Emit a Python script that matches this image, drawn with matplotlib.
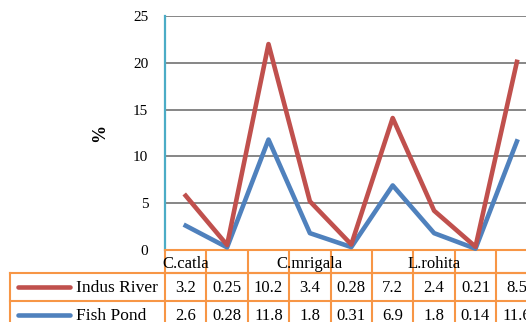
import numpy as np
import matplotlib
matplotlib.use("Agg")
import matplotlib.pyplot as plt
from matplotlib import transforms

# Данные
header_labels = ["C.catla", "", "", "C.mrigala", "", "", "L.rohita", "", ""]
series_names = ["Indus River", "Fish Pond"]
indus = [3.2, 0.25, 10.2, 3.4, 0.28, 7.2, 2.4, 0.21, 8.5]
fish = [2.6, 0.28, 11.8, 1.8, 0.31, 6.9, 1.8, 0.14, 11.6]
indus_txt = ["3.2", "0.25", "10.2", "3.4", "0.28", "7.2", "2.4", "0.21", "8.5"]
fish_txt = ["2.6", "0.28", "11.8", "1.8", "0.31", "6.9", "1.8", "0.14", "11.6"]
yticks = [0, 5, 10, 15, 20, 25]

W, H = 526, 322
RED = "#C0504D"
BLUE = "#4F81BD"
ORANGE = "#F79646"
FONT = "Liberation Serif"

fig = plt.figure(figsize=(W / 100, H / 100), dpi=100)

# основная область графика (в пикселях: x 165..537, y 16..250)
x0, x1, ytop, ybot = 165, 165 + 9 * 41.4, 16, 250
ax = fig.add_axes([x0 / W, (H - ybot) / H, (x1 - x0) / W, (ybot - ytop) / H])
n = len(indus)
x = np.arange(n)
stacked = np.array(fish) + np.array(indus)  # линейный график с накоплением

ax.plot(x, fish, color=BLUE, lw=3.3, zorder=3, clip_on=False)
ax.plot(x, stacked, color=RED, lw=3.3, zorder=4, clip_on=False)

ax.set_xlim(-0.5, n - 0.5)
ax.set_ylim(0, 25)
ax.set_yticks(yticks)
ax.set_yticklabels([str(t) for t in yticks], fontfamily=FONT, fontsize=11)
ax.tick_params(axis="y", length=0, pad=12)
ax.set_xticks([])
ax.grid(axis="y", color="#868686", lw=1.4)
ax.set_axisbelow(True)
for s in ["top", "right"]:
    ax.spines[s].set_visible(False)
ax.spines["left"].set_color("#4BACC6")
ax.spines["left"].set_linewidth(1.6)
ax.spines["bottom"].set_color(ORANGE)
ax.spines["bottom"].set_linewidth(1.5)
ax.set_ylabel("%", fontfamily=FONT, fontsize=13, fontweight="bold", labelpad=18)

# таблица данных под графиком
tab = fig.add_axes([0, 0, 1, 1], zorder=-1)
tab.set_xlim(0, W)
tab.set_ylim(H, 0)
tab.axis("off")
tr = transforms.blended_transform_factory(ax.transData, tab.transData)

r0, r1, r2, r3 = 251, 273, 301, 330
lkw = dict(color=ORANGE, lw=1.5, clip_on=False)
tab.plot([164, W], [r1, r1], **lkw)
tab.plot([10, W], [r1, r1], **lkw)
tab.plot([10, W], [r2, r2], **lkw)
tab.plot([10, 10], [r1, r3], **lkw)
for k in range(n + 1):
    tab.plot([k - 0.5, k - 0.5], [r0, r3], transform=tr, **lkw)

for i, lab in enumerate(header_labels):
    if lab:
        tab.text(i, (r0 + r1) / 2 + 2, lab, transform=tr, ha="center", va="center",
                 fontfamily=FONT, fontsize=12)

for row, (name, col, vals) in enumerate(zip(series_names, [RED, BLUE], [indus_txt, fish_txt])):
    yc = (r1 + r2) / 2 + row * (r2 - r1)
    tab.plot([18, 70], [yc, yc], color=col, lw=3.3, solid_capstyle="round")
    tab.text(76, yc + 1, name, ha="left", va="center", fontfamily=FONT, fontsize=12.5)
    for i, v in enumerate(vals):
        tab.text(i, yc + 1, v, transform=tr, ha="center", va="center",
                 fontfamily=FONT, fontsize=12)

fig.savefig("out.png", dpi=100)
